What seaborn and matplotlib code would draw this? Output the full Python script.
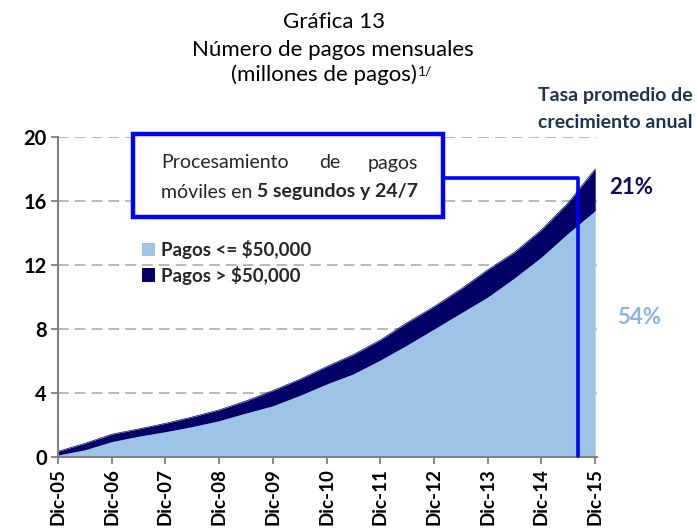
import matplotlib
matplotlib.use("Agg")
import matplotlib.pyplot as plt
import seaborn as sns
import numpy as np
import pandas as pd
from matplotlib.patches import Rectangle, Patch
from matplotlib.lines import Line2D

# ---- data (semi-annual points, millions of payments) ----
months = [0, 6, 12, 18, 24, 30, 36, 42, 48, 54, 60, 66, 72, 78, 84, 90, 96, 102, 108, 114, 120]
pagos_small = [0.12, 0.45, 0.96, 1.30, 1.58, 1.90, 2.27, 2.75, 3.20, 3.85, 4.56,
               5.20, 6.06, 7.00, 8.00, 9.00, 10.00, 11.20, 12.50, 14.00, 15.40]
pagos_large = [0.23, 0.40, 0.46, 0.45, 0.52, 0.60, 0.67, 0.75, 0.95, 1.00, 1.09,
               1.20, 1.25, 1.40, 1.40, 1.50, 1.70, 1.60, 1.70, 1.90, 2.60]
tick_months = [0, 12, 24, 36, 48, 60, 72, 84, 96, 108, 120]
tick_labels = ["Dic-05", "Dic-06", "Dic-07", "Dic-08", "Dic-09", "Dic-10",
               "Dic-11", "Dic-12", "Dic-13", "Dic-14", "Dic-15"]
y_ticks = [0, 4, 8, 12, 16, 20]
series_names = ["Pagos <= $50,000", "Pagos > $50,000"]
rates = ["21%", "54%"]

df = pd.DataFrame({"mes": months, "small": pagos_small, "large": pagos_large})
df["total"] = df["small"] + df["large"]

LIGHT = "#9DC3E6"
DARK = "#000066"
BLUE = "#0000FF"
FONT = ["Lato", "DejaVu Sans"]

sns.set_theme(style="white")
plt.rcParams["font.family"] = FONT

W, H = 697, 528
fig = plt.figure(figsize=(W / 100, H / 100), dpi=100)
def fx(x): return x / W
def fy(y): return 1 - y / H
FT = fig.transFigure

ax = fig.add_axes([fx(58), fy(457), fx(597) - fx(58), fy(137) - fy(457)])

ax.stackplot(df["mes"], df["small"], df["large"], colors=[LIGHT, DARK],
             linewidth=0, zorder=2)
sns.lineplot(x=df["mes"], y=df["total"], ax=ax, color=DARK, linewidth=0.5, zorder=2)

ax.set_xlim(0, 120.4)
ax.set_ylim(0, 20)
ax.set_yticks(y_ticks)
ax.set_yticklabels([str(v) for v in y_ticks], fontsize=14.5, fontweight="bold", color="black")
ax.set_xticks(tick_months)
ax.set_xticklabels(tick_labels, rotation=90, fontsize=13.5, fontweight="bold", color="black")
ax.set_xlabel("")
ax.set_ylabel("")
for y in y_ticks[1:]:
    ax.axhline(y, color="#A6A6A6", linewidth=1.1, linestyle=(0, (7, 4)), zorder=1)
for s in ["top", "right"]:
    ax.spines[s].set_visible(False)
for s in ["left", "bottom"]:
    ax.spines[s].set_color("#808080")
    ax.spines[s].set_linewidth(1.5)
    ax.spines[s].set_zorder(3)
ax.tick_params(axis="both", which="major", direction="out", length=5, width=1.3,
               color="#808080", pad=3, left=True, bottom=True)

# legend
handles = [Patch(facecolor=LIGHT, edgecolor="none"), Patch(facecolor=DARK, edgecolor="none")]
leg = ax.legend(handles, series_names, loc="upper left",
                frameon=False, prop={"weight": "bold", "size": 13.5, "family": FONT},
                handlelength=0.7, handleheight=0.7, handletextpad=0.3, labelspacing=0.35,
                borderaxespad=0, borderpad=0)
leg.set_bbox_to_anchor((fx(142), fy(240)), transform=FT)

# title
fig.text(fx(334), fy(22), "Gráfica 13", ha="center", va="center", fontsize=16, color="black")
fig.text(fx(333), fy(50), "Número de pagos mensuales", ha="center", va="center", fontsize=16, color="black")
t3 = fig.text(fx(324), fy(75), "(millones de pagos)", ha="center", va="center", fontsize=16, color="black")
ax.annotate("1/", xy=(1, 0.95), xycoords=t3, xytext=(1, 0), textcoords="offset points",
            ha="left", va="top", fontsize=10, color="black", annotation_clip=False)

# right side text
ax.text(fx(538), fy(95), "Tasa promedio de", ha="left", va="center", fontsize=14,
        fontweight="bold", color="#1F3350", transform=FT, clip_on=False)
ax.text(fx(538), fy(122), "crecimiento anual", ha="left", va="center", fontsize=14,
        fontweight="bold", color="#1F3350", transform=FT, clip_on=False)
ax.text(fx(609), fy(187), rates[0], ha="left", va="center", fontsize=16,
        fontweight="bold", color="#0B0B5C", transform=FT, clip_on=False)
ax.text(fx(617), fy(318), rates[1], ha="left", va="center", fontsize=16,
        fontweight="bold", color="#8DB3E2", transform=FT, clip_on=False)

# annotation box
box = Rectangle((fx(133), fy(217)), fx(443) - fx(133), fy(134) - fy(217),
                transform=FT, facecolor="white", edgecolor=BLUE,
                linewidth=3.2, zorder=5, clip_on=False)
ax.add_patch(box)
kw = dict(va="center", fontsize=14, zorder=6, transform=FT, clip_on=False)
ax.text(fx(161), fy(163), "Procesamiento", ha="left", **kw)
ax.text(fx(330), fy(163), "de", ha="center", **kw)
ax.text(fx(418), fy(163), "pagos", ha="right", **kw)
tn = ax.text(fx(161), fy(192), "móviles en ", ha="left", **kw)
ax.annotate("5 segundos y 24/7", xy=(1, 0.5), xycoords=tn, ha="left", va="center",
            fontsize=14, fontweight="bold", annotation_clip=False, zorder=6)

conn = Line2D([fx(443), fx(578), fx(578)], [fy(178), fy(178), fy(456)],
              transform=FT, color=BLUE, linewidth=2.6, zorder=4, clip_on=False)
ax.add_line(conn)

fig.savefig("out.png", dpi=100)
